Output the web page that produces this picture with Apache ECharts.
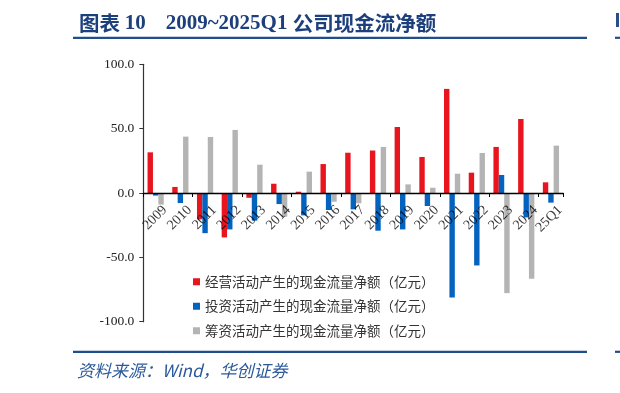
<!DOCTYPE html>
<html><head><meta charset="utf-8">
<script src="https://cdn.jsdelivr.net/npm/echarts@6/dist/echarts.min.js"></script>
<style>html,body{margin:0;padding:0;background:#fff}#c{width:620px;height:393px}</style>
</head><body><div id="c"></div>
<script>
const categories = ['2009','2010','2011','2012','2013','2014','2015','2016','2017','2018','2019','2020','2021','2022','2023','2024','25Q1'];
const operating = [31.6, 4.7, -20.5, -34.5, -3.7, 7.2, 1.0, 22.5, 31.3, 33.0, 51.3, 28.0, 80.9, 15.8, 35.8, 57.5, 8.3];
const investing = [-2.0, -7.8, -31.2, -28.3, -21.5, -8.6, -17.4, -13.2, -12.7, -29.3, -28.3, -10.1, -81.2, -56.3, 14.0, -19.0, -7.5];
const financing = [-9.0, 43.8, 43.5, 49.0, 22.0, -18.4, 16.6, -6.8, -8.0, 35.8, 6.7, 4.1, 15.0, 31.1, -77.8, -66.6, 36.8];
const seriesNames = ['经营活动产生的现金流量净额（亿元）','投资活动产生的现金流量净额（亿元）','筹资活动产生的现金流量净额（亿元）'];
const colors = ['#E8141E','#0563C0','#B4B4B4'];

const chart = echarts.init(document.getElementById('c'), null, {renderer:'canvas'});
const serif = '"Times New Roman","Liberation Serif",serif';
const cjk = '"Noto Sans CJK SC",sans-serif';
const navy = '#1D3F7C';
chart.setOption({
  animation:false,
  color: colors,
  title: {
    left: 74, top: 8,
    text: '{a|图表 }{b|10}{s|}{b|2009~2025Q1 }{a|公司现金流净额}',
    textStyle: {
      rich: {
        a: {fontFamily: cjk, fontWeight: 'bold', fontSize: 20.5, color: navy},
        b: {fontFamily: serif, fontWeight: 'bold', fontSize: 21, color: navy},
        s: {width: 20}
      }
    }
  },
  graphic: [
    {type:'rect', shape:{x:73, y:36.7, width:514, height:2.2}, style:{fill:'#1F4E8C'}},
    {type:'rect', shape:{x:615, y:36.7, width:5, height:2.2}, style:{fill:'#1F4E8C'}},
    {type:'rect', shape:{x:616, y:13, width:3, height:14}, style:{fill:'#2A4F88'}},
    {type:'rect', shape:{x:73, y:350.7, width:514, height:2.2}, style:{fill:'#1F4E8C'}},
    {type:'rect', shape:{x:615, y:350.7, width:5, height:2.2}, style:{fill:'#1F4E8C'}},
    {type:'text', left:77, top:362, style:{text:'资料来源：Wind，华创证券', fontFamily: cjk + ',' + serif, fontStyle:'italic', fontSize:17, fill:'#2B5A9C'}}
  ],
  legend: {
    orient: 'vertical', left: 188, top: 270,
    itemWidth: 7, itemHeight: 7, itemGap: 11, icon: 'rect',
    textStyle: {fontFamily: cjk, fontSize: 13.5, color: '#333'},
    data: seriesNames
  },
  grid: {left: 143.3, right: 56.7, top: 64.3, bottom: 71.3, containLabel: false},
  xAxis: {
    type: 'category', data: categories, z: 10,
    axisLine: {onZero: true, lineStyle: {color: '#000', width: 1.3}},
    axisTick: {show: true, length: 4, lineStyle:{color:'#000'}},
    axisLabel: {show: false}
  },
  yAxis: {
    type: 'value', min: -100, max: 100, interval: 50,
    axisLine: {show: true, lineStyle: {color: '#333', width: 1.2}},
    axisTick: {show: true, length: 4, lineStyle:{color:'#333'}},
    splitLine: {show: false},
    axisLabel: {fontFamily: serif, fontSize: 13.5, color: '#222', margin: 9, formatter: v => v.toFixed(1)}
  },
  series: [
    {name: seriesNames[0], type: 'bar', data: operating, barWidth: 5.4, barGap: '0%'},
    {name: seriesNames[1], type: 'bar', data: investing, barWidth: 5.4, barGap: '0%'},
    {name: seriesNames[2], type: 'bar', data: financing, barWidth: 5.4, barGap: '0%'},
    {type: 'scatter', z: 20, symbolSize: 0, silent: true, clip: false,
     data: categories.map(c => [c, 0]),
     label: {show: true, position: [0, 0], offset: [-4, 17], rotate: 45, align: 'right', verticalAlign: 'middle',
             formatter: p => p.value[0], fontFamily: serif, fontSize: 14, color: '#000',
             textBorderWidth: 0, textBorderColor: 'transparent', textShadowBlur: 0}}
  ]
});
</script></body></html>
